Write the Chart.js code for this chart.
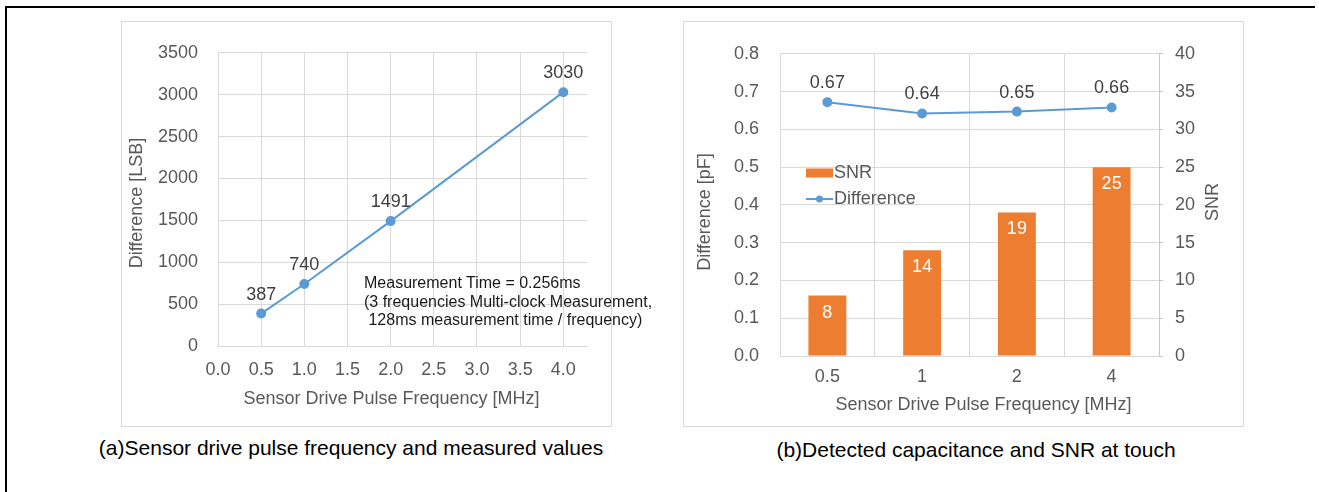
<!DOCTYPE html>
<html>
<head>
<meta charset="utf-8">
<script src="https://cdn.jsdelivr.net/npm/chart.js@4.4.1/dist/chart.umd.min.js"></script>
<style>
body { margin:0; width:1319px; height:492px; background:#fff; overflow:hidden; position:relative; font-family:"Liberation Sans", Arial, sans-serif; }
.frame { position:absolute; left:5px; top:6px; width:1308px; height:500px; border-top:2px solid #000; border-left:2px solid #000; }
.panel { position:absolute; border:1px solid #d9d9d9; background:#fff; }
#panelA { left:121px; top:21px; width:489px; height:404px; }
#panelB { left:683px; top:21px; width:559px; height:404px; }
.panel canvas { display:block; }
.note { position:absolute; left:364px; top:274px; font-size:16px; line-height:18.5px; color:#1a1a1a; white-space:pre; z-index:2; }
.caption { position:absolute; font-size:21px; line-height:24px; color:#000; white-space:nowrap; transform:translateX(-50%); }
</style>
</head>
<body>
<div class="frame"></div>
<div class="panel" id="panelA"><canvas id="chartA" width="489" height="404"></canvas></div>
<div class="panel" id="panelB"><canvas id="chartB" width="559" height="404"></canvas></div>
<div class="note">Measurement Time = 0.256ms
(3 frequencies Multi-clock Measurement,
 128ms measurement time / frequency)</div>
<div class="caption" style="left:351px; top:436px;">(a)Sensor drive pulse frequency and measured values</div>
<div class="caption" style="left:976px; top:438px;">(b)Detected capacitance and SNR at touch</div>
<script>
// (a) frequency vs. measured difference
const freqA = [0.5, 1.0, 2.0, 4.0];
const diffLSB = [387, 740, 1491, 3030];
const xTicksA = [0, 0.5, 1.0, 1.5, 2.0, 2.5, 3.0, 3.5, 4.0];

// (b) capacitance and SNR per frequency
const freqLabelsB = ['0.5', '1', '2', '4'];
const snrValues = [8, 14, 19, 25];
const diffPF = [0.672, 0.642, 0.647, 0.658];

const FONT = '"Liberation Sans", Arial, sans-serif';
const GRID = '#d9d9d9';
const BLUE = '#5B9BD5';
const ORANGE = '#ED7D31';

Chart.defaults.font.family = FONT;
Chart.defaults.font.size = 18;
Chart.defaults.color = '#595959';

// draws number labels next to each point / bar
const valueLabels = {
    id: 'valueLabels',
    afterDatasetsDraw(chart) {
        const ctx = chart.ctx;
        chart.data.datasets.forEach((ds, i) => {
            const cfg = ds.valueLabel;
            if (!cfg) return;
            const meta = chart.getDatasetMeta(i);
            ctx.save();
            ctx.font = '18px ' + FONT;
            ctx.fillStyle = cfg.color;
            ctx.textAlign = 'center';
            ctx.textBaseline = 'middle';
            meta.data.forEach((el, j) => {
                const v = ds.data[j];
                const val = typeof v === 'object' ? v.y : v;
                ctx.fillText(cfg.format(val), el.x, el.y + cfg.dy);
            });
            ctx.restore();
        });
    }
};

const axisTitles = {
    id: 'axisTitles',
    afterDraw(chart, args, opts) {
        const ctx = chart.ctx;
        (opts.items || []).forEach(t => {
            ctx.save();
            ctx.font = '18px ' + FONT;
            ctx.fillStyle = '#595959';
            ctx.textAlign = 'center';
            ctx.textBaseline = 'middle';
            ctx.translate(t.x, t.y);
            if (t.rotate) ctx.rotate(-Math.PI / 2);
            ctx.fillText(t.text, 0, 0);
            ctx.restore();
        });
    }
};

const insideLegend = {
    id: 'insideLegend',
    afterDraw(chart, args, opts) {
        if (!opts.x) return;
        const ctx = chart.ctx;
        ctx.save();
        ctx.font = '18px ' + FONT;
        ctx.textBaseline = 'middle';
        chart.data.datasets.forEach((ds, i) => {
            const y = opts.y + i * opts.gap;
            if (ds.type === 'line') {
                ctx.strokeStyle = ds.borderColor;
                ctx.lineWidth = 2;
                ctx.beginPath();
                ctx.moveTo(opts.x, y);
                ctx.lineTo(opts.x + 27, y);
                ctx.stroke();
                ctx.fillStyle = ds.borderColor;
                ctx.beginPath();
                ctx.arc(opts.x + 13.5, y, 3.5, 0, Math.PI * 2);
                ctx.fill();
            } else {
                ctx.fillStyle = ds.backgroundColor;
                ctx.fillRect(opts.x, y - 4.5, 27, 9);
            }
            ctx.fillStyle = '#595959';
            ctx.fillText(ds.label, opts.x + 28, y);
        });
        ctx.restore();
    }
};

new Chart(document.getElementById('chartA'), {
    type: 'scatter',
    data: {
        datasets: [{
            label: 'Difference',
            data: freqA.map((f, i) => ({ x: f, y: diffLSB[i] })),
            showLine: true,
            borderColor: BLUE,
            backgroundColor: BLUE,
            borderWidth: 2,
            pointRadius: 4,
            pointHoverRadius: 4,
            valueLabel: { color: '#404040', dy: -19, format: v => String(v) },
        }],
    },
    options: {
        responsive: false,
        animation: false,
        layout: { padding: { left: 0, right: 23.5, top: 30, bottom: 0 } },
        plugins: {
            legend: { display: false },
            tooltip: { enabled: false },
            axisTitles: { items: [
                { text: 'Difference [LSB]', x: 15, y: 181, rotate: true },
                { text: 'Sensor Drive Pulse Frequency [MHz]', x: 269.5, y: 377 },
            ] },
        },
        scales: {
            x: {
                type: 'linear',
                min: 0,
                max: 4.28,
                afterBuildTicks: s => { s.ticks = xTicksA.map(v => ({ value: v })); },
                afterFit: s => { s.height = 80; },
                ticks: { padding: 13, callback: v => v.toFixed(1) },
                grid: { color: GRID, drawTicks: false },
                border: { color: GRID },
            },
            y: {
                min: 0,
                max: 3500,
                afterFit: s => { s.width = 96; },
                ticks: { stepSize: 500, padding: 20, callback: v => String(v) },
                grid: { color: GRID, drawTicks: false },
                border: { color: GRID },
            },
        },
    },
    plugins: [valueLabels, axisTitles],
});

new Chart(document.getElementById('chartB'), {
    data: {
        labels: freqLabelsB,
        datasets: [{
            type: 'bar',
            label: 'SNR',
            data: snrValues,
            yAxisID: 'y2',
            backgroundColor: ORANGE,
            barPercentage: 0.4,
            categoryPercentage: 1,
            order: 1,
            valueLabel: { color: '#ffffff', dy: 17, format: v => String(v) },
        }, {
            type: 'line',
            label: 'Difference',
            data: diffPF,
            yAxisID: 'y',
            borderColor: BLUE,
            backgroundColor: BLUE,
            borderWidth: 2,
            pointRadius: 4,
            pointHoverRadius: 4,
            order: 0,
            valueLabel: { color: '#404040', dy: -19, format: v => v.toFixed(2) },
        }],
    },
    options: {
        responsive: false,
        animation: false,
        layout: { padding: { left: 0, right: 0, top: 30, bottom: 0 } },
        plugins: {
            legend: { display: false },
            tooltip: { enabled: false },
            insideLegend: { x: 122, y: 151, gap: 26 },
            axisTitles: { items: [
                { text: 'Difference [pF]', x: 21, y: 190, rotate: true },
                { text: 'SNR', x: 529, y: 180, rotate: true },
                { text: 'Sensor Drive Pulse Frequency [MHz]', x: 299.5, y: 383 },
            ] },
        },
        scales: {
            x: {
                afterFit: s => { s.height = 70; },
                ticks: { padding: 10 },
                grid: { color: GRID, drawTicks: false },
                border: { color: GRID },
            },
            y: {
                position: 'left',
                min: 0,
                max: 0.8,
                afterFit: s => { s.width = 96; },
                ticks: { stepSize: 0.1, padding: 21, callback: v => v.toFixed(1) },
                grid: { color: GRID, drawTicks: false },
                border: { color: GRID },
            },
            y2: {
                position: 'right',
                min: 0,
                max: 40,
                afterFit: s => { s.width = 84; },
                ticks: { stepSize: 5, padding: 12 },
                grid: { drawOnChartArea: false, color: '#c8c8c8', tickLength: 4 },
                border: { color: '#c8c8c8' },
            },
        },
    },
    plugins: [valueLabels, axisTitles, insideLegend],
});
</script>
</body>
</html>
